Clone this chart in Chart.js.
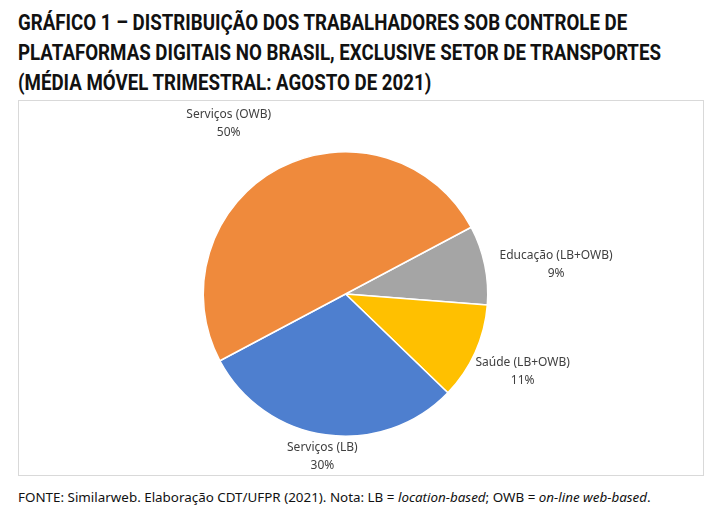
<!DOCTYPE html>
<html>
<head>
<meta charset="utf-8">
<script src="https://cdn.jsdelivr.net/npm/chart.js@4"></script>
<style>
  body { margin: 0; background: #fff; width: 723px; height: 521px; position: relative; font-family: "Noto Sans", sans-serif; overflow: hidden; }
  #title { position: absolute; left: 18px; top: 8px; font-family: "Roboto", sans-serif; font-weight: bold; font-size: 22px; line-height: 30px; color: #111; white-space: nowrap; transform: scaleX(0.85); transform-origin: left top; }
  #box { position: absolute; left: 18px; top: 100px; width: 684px; height: 374px; border: 1px solid #d9d9d9; }
  #note { position: absolute; left: 18px; top: 488px; font-size: 13.4px; color: #111; white-space: nowrap; }
</style>
</head>
<body>
<div id="title">GRÁFICO 1 – DISTRIBUIÇÃO DOS TRABALHADORES SOB CONTROLE DE<br>PLATAFORMAS DIGITAIS NO BRASIL, EXCLUSIVE SETOR DE TRANSPORTES<br>(MÉDIA MÓVEL TRIMESTRAL: AGOSTO DE 2021)</div>
<div id="box"><canvas id="pie" width="684" height="374"></canvas></div>
<div id="note">FONTE: Similarweb. Elaboração CDT/UFPR (2021). Nota: LB = <i>location-based</i>; OWB = <i>on-line web-based</i>.</div>
<script>
const categories = ['Educação (LB+OWB)', 'Saúde (LB+OWB)', 'Serviços (LB)', 'Serviços (OWB)'];
const shares = [9, 11, 30, 50];
const colors = ['#a5a5a5', '#ffc000', '#4e7fcf', '#ef8a3c'];
const labelGap = [70, 52, 24, 62];

const outsideLabels = {
  id: 'outsideLabels',
  afterDatasetsDraw(chart) {
    const ctx = chart.ctx;
    ctx.save();
    ctx.font = '12px "Noto Sans", sans-serif';
    ctx.fillStyle = '#404040';
    ctx.textAlign = 'center';
    chart.getDatasetMeta(0).data.forEach((arc, i) => {
      // shift a bit toward the top for the big slice, like the original
      const mid = (arc.startAngle + arc.endAngle) / 2 + (i === 3 ? -0.12 : 0) + (i === 0 ? 0.08 : 0);
      const r = arc.outerRadius + labelGap[i];
      const x = arc.x + Math.cos(mid) * r;
      const y = arc.y + Math.sin(mid) * r;
      ctx.fillText(categories[i], x, y - 8);
      ctx.fillText(shares[i] + '%', x, y + 10);
    });
    ctx.restore();
  }
};

new Chart(document.getElementById('pie').getContext('2d'), {
  type: 'pie',
  data: {
    labels: categories,
    datasets: [{
      data: shares,
      backgroundColor: colors,
      borderColor: '#fff',
      borderWidth: 1.5
    }]
  },
  options: {
    responsive: false,
    animation: false,
    rotation: 62,
    layout: { padding: { top: 50, bottom: 38, left: 100, right: 131 } },
    plugins: { legend: { display: false }, tooltip: { enabled: false } }
  },
  plugins: [outsideLabels]
});
</script>
</body>
</html>
